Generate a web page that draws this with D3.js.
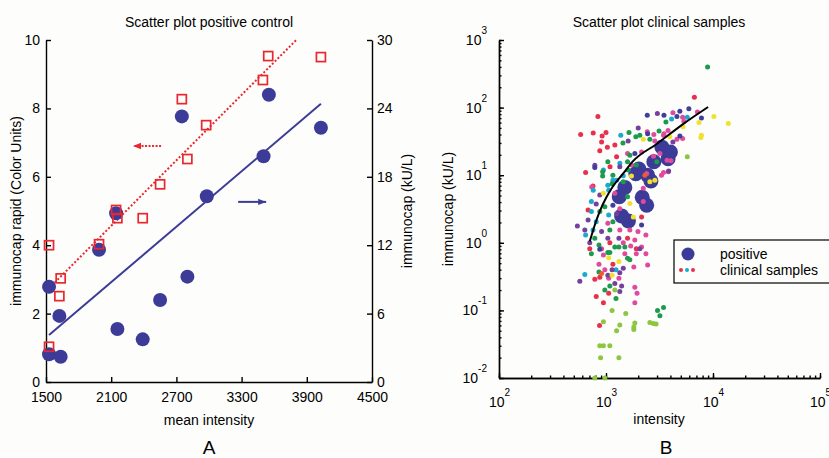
<!DOCTYPE html>
<html>
<head>
<meta charset="utf-8">
<script src="https://cdn.jsdelivr.net/npm/d3@7"></script>
<style>
  body { margin: 0; background: #fdfdfb; }
  svg { font-family: "Liberation Sans", Arial, sans-serif; }
  .axis path, .axis line { stroke: #000; stroke-width: 1.4; }
  .axis text { font-size: 14px; fill: #000; font-family: "Liberation Sans", Arial, sans-serif; }
  .lbl { font-size: 14px; fill: #000; }
</style>
</head>
<body>
<div id="chart"></div>
<script>
// ---------- panel A data (positive control) ----------
// red squares: [mean intensity, immunocap rapid (Color Units)]
var rapidPoints = [[1528,4.0],[1528,1.03],[1623,2.51],[1635,3.03],[1988,4.03],[2145,5.03],[2157,4.79],
  [2390,4.79],[2550,5.78],[2750,8.27],[2801,6.52],[2974,7.51],[3496,8.83],[3545,9.53],[4030,9.5]];
// blue circles: [mean intensity, immunocap (kU/L)]
var capPoints = [[1528,8.36],[1528,2.43],[1623,5.8],[1635,2.22],[1988,11.6],[2145,14.8],[2157,4.65],
  [2390,3.74],[2550,7.19],[2750,23.3],[2801,9.24],[2980,16.3],[3502,19.8],[3551,25.2],[4030,22.3]];
var rapidFit = [[1528,2.74],[3803,10]];
var capFit = [[1528,4.12],[4030,24.4]];
var arrowRapid = [[2559,6.9],[2301,6.9]];   // Color Units
var arrowCap = [[3268,15.8],[3526,15.8]];   // kU/L
var xTicksA = [1500,2100,2700,3300,3900,4500];
var yTicksA = [0,2,4,6,8,10];
var yTicksA2 = [0,6,12,18,24,30];

// ---------- panel B data (clinical samples) ----------
var positiveB = [[3330,26],[4000,22],[3800,17.5],[2800,15.8],[2030,12.3],[1900,10.5],[2450,10],[2630,8.2],
  [2180,4.7],[2400,3.6],[1500,6.6],[1330,4.8],[1620,2.1],[1400,2.5]];

var clinRed = [[6700,142],[840,74],[580,40],[760,42],[920,38],[1000,43],[910,31],[1030,26],[1210,28],[875,23],
  [645,11],[680,3.05],[1256,18.7],[1090,13.3],[756,6.9],[2150,2.4],[1590,1.17],[1086,1.0],[705,0.82],[1920,0.82],
  [1160,0.48],[875,0.31],[786,0.29],[1060,0.18],[810,0.16],[946,0.13],[870,0.06]];
var clinPink = [[7150,86],[4220,84],[5200,72],[5340,63],[3800,46],[3480,41],[4600,34],[5200,35],[2430,44],[2800,40],
  [3450,39],[1590,21],[735,6.7],[2150,22],[2780,19],[3190,21],[1730,14.1],[2400,10.6],[3300,10],[3820,11.2],
  [1209,5.4],[1346,3.2],[1040,1.95],[1346,1.55],[1670,1.55],[1990,1.47],[2360,1.3],[1450,1.0],[1860,1.1],[910,0.82],
  [3720,16.7],[4050,16.3],[3450,11],[2230,6.4],[2230,4.1],[2150,0.87],[1700,0.9],[2360,0.69],[1500,0.69],[946,0.66],
  [1920,0.69],[860,0.48],[1820,0.44],[2450,0.47],[975,0.4],[1320,0.3],[1060,0.3],[1860,0.22],[1950,0.18],[1860,0.13],[2860,32]];
var clinCyan = [[5750,72],[4100,68],[1375,39],[760,6],[1346,15],[1256,8.4],[1040,7.1],[1060,6],[730,4.1],[730,2.9],
  [1060,2.57],[810,2.05],[756,1.55],[645,1.3],[1240,0.4],[634,0.34],[946,11.9],[1450,9.8],[1160,8.45]];
var clinGreen = [[8900,400],[3630,61],[3130,45],[1440,30],[1640,43],[1900,37],[2070,39],[930,11.2],[930,9.7],[1670,19.8],
  [2980,15.8],[1590,15.8],[1160,10],[1450,8],[1140,7.5],[1590,4.8],[975,3.4],[875,2.9],[1160,2.05],[1086,1.55],
  [786,1.17],[860,0.93],[1209,0.87],[1040,0.72],[1086,0.72],[1320,0.87],[1500,0.87],[730,0.69],[1590,0.59],[1670,0.56],
  [860,0.37],[1086,0.23],[975,0.2],[1240,0.15],[3030,0.1],[3450,0.11],[3190,0.083],[2570,34],[1040,15.8],[1610,11.9],[1920,14.1]];
var clinPurple = [[3020,82],[1610,32],[2000,50],[4220,31],[786,14],[875,5.1],[810,3.75],[1256,2.7],[680,2.17],[540,1.77],
  [634,1.55],[910,1.47],[1040,1.17],[1320,1.17],[705,1.0],[3850,11.5],[2070,0.82],[1450,0.42],[1140,0.4],[1346,0.36],
  [1040,0.33],[569,0.27],[1209,0.25],[1400,0.23],[1346,0.19],[1346,13.3]];
var clinNavy = [[5950,96],[4900,88],[2430,77],[3480,77],[4600,74],[7800,70],[4900,38],[786,13],[1860,21],[1160,3.6],
  [2150,1.83],[875,0.8],[2450,41]];
var clinYellow = [[10200,74],[13900,58],[7800,39],[7700,36],[7400,60],[5250,52],[3950,37],[2230,34],[1730,9.7],[2570,8],
  [2860,8.4],[946,5.4],[1670,3.8],[1800,2.4],[1060,0.6],[1320,0.53],[1140,0.33]];
var clinLime = [[5750,18.7],[1209,0.2],[1140,0.1],[1530,0.09],[946,0.068],[1346,0.061],[1860,0.065],[1820,0.057],
  [1820,0.052],[1256,0.05],[2570,0.066],[2770,0.064],[2940,0.063],[875,0.03],[946,0.03],[1086,0.03],[890,0.02],
  [1320,0.02],[786,0.01],[975,0.01]];
var clinOrange = [[2307,10],[910,0.35]];

var fitIntensity = [705,800,880,1000,1150,1450,1780,2980,5250,9000];
var fitKU = [1.05,2.0,3.0,4.6,6.7,10.6,16,29,57,102];

var blue = "#3c3c98", red = "#e8282e";

var svg = d3.select("#chart").append("svg")
  .attr("width", 829).attr("height", 458);

var defs = svg.append("defs");
function marker(id, color) {
  defs.append("marker").attr("id", id)
    .attr("viewBox", "0 -5 10 10").attr("refX", 10).attr("refY", 0)
    .attr("markerUnits", "userSpaceOnUse")
    .attr("markerWidth", 9).attr("markerHeight", 8).attr("orient", "auto")
    .append("path").attr("d", "M0,-4L10,0L0,4Z").attr("fill", color);
}
marker("arrRed", red);
marker("arrBlue", blue);

// ================= panel A =================
var xA = d3.scaleLinear().domain([1500, 4500]).range([46, 372]);
var yA = d3.scaleLinear().domain([0, 10]).range([382, 40]);
var yA2 = d3.scaleLinear().domain([0, 30]).range([382, 40]);

svg.append("g").attr("class", "axis").attr("transform", "translate(0,382)")
  .call(d3.axisBottom(xA).tickValues(xTicksA).tickFormat(d3.format("d"))
    .tickSize(-5).tickSizeOuter(0).tickPadding(10));
svg.append("g").attr("class", "axis").attr("transform", "translate(46,0)")
  .call(d3.axisLeft(yA).tickValues(yTicksA).tickSize(-5).tickSizeOuter(0).tickPadding(6));
svg.append("g").attr("class", "axis").attr("transform", "translate(372,0)")
  .call(d3.axisRight(yA2).tickValues(yTicksA2).tickSize(-5).tickSizeOuter(0).tickPadding(5));

// fit lines
svg.append("path").datum(rapidFit)
  .attr("d", d3.line().x(function(d) { return xA(d[0]); }).y(function(d) { return yA(d[1]); }))
  .attr("stroke", red).attr("stroke-width", 2).attr("stroke-dasharray", "2,2").attr("fill", "none");
svg.append("path").datum(capFit)
  .attr("d", d3.line().x(function(d) { return xA(d[0]); }).y(function(d) { return yA2(d[1]); }))
  .attr("stroke", blue).attr("stroke-width", 2).attr("fill", "none");

// blue circles (right axis)
svg.selectAll("circle.cap").data(capPoints).enter().append("circle")
  .attr("class", "cap")
  .attr("cx", function(d) { return xA(d[0]); })
  .attr("cy", function(d) { return yA2(d[1]); })
  .attr("r", 7).attr("fill", blue);

// red squares (left axis)
svg.selectAll("rect.rapid").data(rapidPoints).enter().append("rect")
  .attr("class", "rapid")
  .attr("x", function(d) { return xA(d[0]) - 4.5; })
  .attr("y", function(d) { return yA(d[1]) - 4.5; })
  .attr("width", 9).attr("height", 9)
  .attr("fill", "none").attr("stroke", red).attr("stroke-width", 1.7);

// arrows
svg.append("line")
  .attr("x1", xA(arrowRapid[0][0])).attr("y1", yA(arrowRapid[0][1]))
  .attr("x2", xA(arrowRapid[1][0])).attr("y2", yA(arrowRapid[1][1]))
  .attr("stroke", red).attr("stroke-width", 2).attr("stroke-dasharray", "2,1.5")
  .attr("marker-end", "url(#arrRed)");
svg.append("line")
  .attr("x1", xA(arrowCap[0][0])).attr("y1", yA2(arrowCap[0][1]))
  .attr("x2", xA(arrowCap[1][0])).attr("y2", yA2(arrowCap[1][1]))
  .attr("stroke", blue).attr("stroke-width", 2)
  .attr("marker-end", "url(#arrBlue)");

svg.append("text").attr("class", "lbl").attr("x", 209).attr("y", 27)
  .attr("text-anchor", "middle").text("Scatter plot positive control");
svg.append("text").attr("class", "lbl").attr("x", 209).attr("y", 425)
  .attr("text-anchor", "middle").text("mean intensity");
svg.append("text").attr("class", "lbl")
  .attr("transform", "translate(16,211) rotate(-90)").attr("dy", "0.35em")
  .attr("text-anchor", "middle").text("immunocap rapid (Color Units)");
svg.append("text").attr("class", "lbl")
  .attr("transform", "translate(407,211) rotate(-90)").attr("dy", "0.35em")
  .attr("text-anchor", "middle").text("immunocap (kU/L)");
svg.append("text").attr("x", 209).attr("y", 454).attr("text-anchor", "middle")
  .attr("font-size", "19px").text("A");

// ================= panel B =================
var xB = d3.scaleLog().domain([1e2, 1e5]).range([499, 820]);
var yB = d3.scaleLog().domain([1e-2, 1e3]).range([378, 40]);

function supLabels(sel) {
  sel.selectAll(".tick text").each(function(d) {
    var t = d3.select(this).text("");
    t.append("tspan").text("10");
    t.append("tspan").attr("font-size", "10px").attr("dy", "-1.1em")
      .text(Math.round(Math.log10(d)));
  });
}

// minor ticks
svg.append("g").attr("class", "axis").attr("transform", "translate(0,378)")
  .call(d3.axisBottom(xB).tickValues(xB.ticks()).tickSize(-2.5).tickSizeOuter(0).tickFormat(""));
svg.append("g").attr("class", "axis").attr("transform", "translate(499,0)")
  .call(d3.axisLeft(yB).tickValues(yB.ticks()).tickSize(-2.5).tickSizeOuter(0).tickFormat(""));
// major ticks
svg.append("g").attr("class", "axis").attr("transform", "translate(0,378)")
  .call(d3.axisBottom(xB).tickValues([1e2, 1e3, 1e4, 1e5]).tickSize(-5).tickSizeOuter(0).tickPadding(19))
  .call(supLabels);
svg.append("g").attr("class", "axis").attr("transform", "translate(499,0)")
  .call(d3.axisLeft(yB).tickValues([1e-2, 1e-1, 1e0, 1e1, 1e2, 1e3]).tickSize(-5).tickSizeOuter(0).tickPadding(12))
  .call(supLabels);

// positive samples (large)
svg.selectAll("circle.pos").data(positiveB).enter().append("circle")
  .attr("class", "pos")
  .attr("cx", function(d) { return xB(d[0]); })
  .attr("cy", function(d) { return yB(d[1]); })
  .attr("r", 7.5).attr("fill", blue);

// clinical samples, one colour per group
var groups = [
  {data: clinRed, color: "#e8304c"},
  {data: clinPink, color: "#df4a9e"},
  {data: clinCyan, color: "#1aa9cf"},
  {data: clinGreen, color: "#1c9a4e"},
  {data: clinPurple, color: "#73409e"},
  {data: clinNavy, color: "#3f3f9a"},
  {data: clinYellow, color: "#f1e12c"},
  {data: clinLime, color: "#8dc63f"},
  {data: clinOrange, color: "#f05a2b"}
];
groups.forEach(function(g) {
  svg.append("g").selectAll("circle").data(g.data).enter().append("circle")
    .attr("cx", function(d) { return xB(d[0]); })
    .attr("cy", function(d) { return yB(d[1]); })
    .attr("r", 2.5).attr("fill", g.color);
});

// fit curve
svg.append("path").datum(d3.zip(fitIntensity, fitKU))
  .attr("d", d3.line().curve(d3.curveMonotoneX)
    .x(function(d) { return xB(d[0]); }).y(function(d) { return yB(d[1]); }))
  .attr("stroke", "#000").attr("stroke-width", 2).attr("fill", "none");

// legend
svg.append("rect").attr("x", 674).attr("y", 240).attr("width", 170).attr("height", 43)
  .attr("fill", "#fdfdfb").attr("stroke", "#000").attr("stroke-width", 1.2);
svg.append("circle").attr("cx", 688).attr("cy", 254).attr("r", 6.5).attr("fill", blue);
[["#e8304c", 681], ["#1aa9cf", 687], ["#e8304c", 693]].forEach(function(p) {
  svg.append("circle").attr("cx", p[1]).attr("cy", 270).attr("r", 2).attr("fill", p[0]);
});
svg.append("text").attr("class", "lbl").attr("x", 720).attr("y", 259).text("positive");
svg.append("text").attr("class", "lbl").attr("x", 720).attr("y", 275).text("clinical samples");

svg.append("text").attr("class", "lbl").attr("x", 659).attr("y", 27)
  .attr("text-anchor", "middle").text("Scatter plot clinical samples");
svg.append("text").attr("class", "lbl").attr("x", 659).attr("y", 424)
  .attr("text-anchor", "middle").text("intensity");
svg.append("text").attr("class", "lbl")
  .attr("transform", "translate(448,209) rotate(-90)").attr("dy", "0.35em")
  .attr("text-anchor", "middle").text("immunocap (kU/L)");
svg.append("text").attr("x", 666).attr("y", 454).attr("text-anchor", "middle")
  .attr("font-size", "19px").text("B");
</script>
</body>
</html>
